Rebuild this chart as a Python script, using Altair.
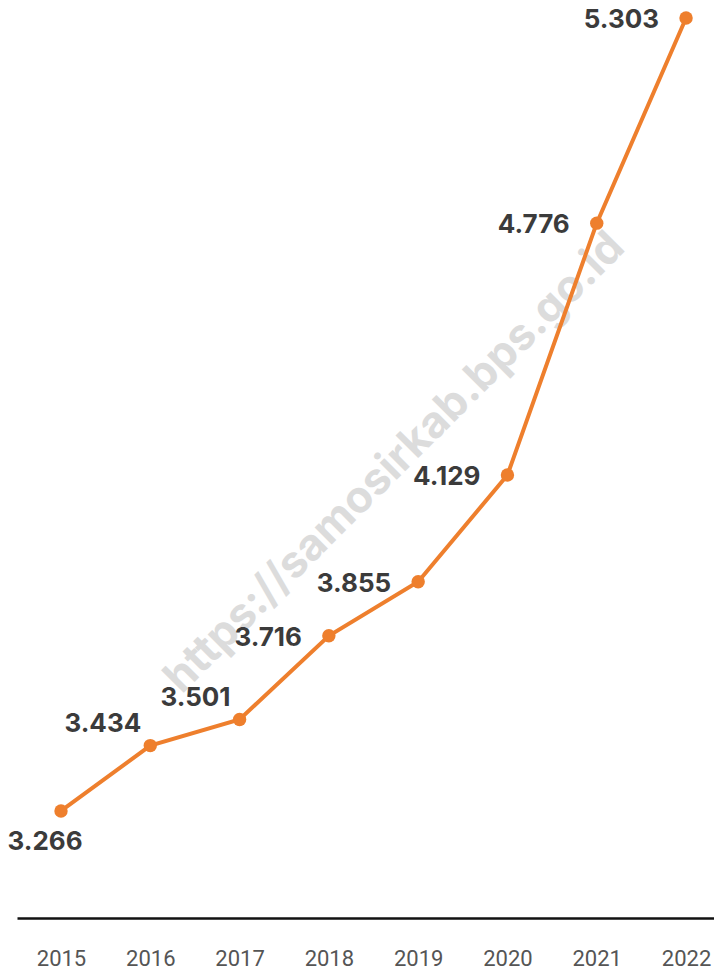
import altair as alt
import pandas as pd

years = [2015, 2016, 2017, 2018, 2019, 2020, 2021, 2022]
values = [3.266, 3.434, 3.501, 3.716, 3.855, 4.129, 4.776, 5.303]
label_side = ["below", "above", "above", "left", "left", "left", "left", "left"]
watermark = "https://samosirkab.bps.go.id"

df = pd.DataFrame({"year": years, "value": values, "side": label_side})

ORANGE = "#EE7F2D"
LABEL = "#3b3b3b"

x = alt.X(
    "year:Q",
    scale=alt.Scale(domain=[2014.5072, 2022.3132], nice=False, zero=False),
    axis=alt.Axis(
        values=years, format="d", title=None, grid=False, ticks=False,
        domainColor="#111111", domainWidth=2.5,
        labelFont="Roboto", labelFontSize=22, labelColor="#555555",
        labelPadding=30, labelFlush=False, labelOverlap=False,
    ),
)
y = alt.Y(
    "value:Q",
    scale=alt.Scale(domain=[2.9911, 5.3287], nice=False, zero=False),
    axis=None,
)

base = alt.Chart(df).encode(x=x, y=y)

wm = alt.Chart(pd.DataFrame({"t": [watermark]})).mark_text(
    angle=315, fontSize=44, fontWeight="bold", font="Inter", color="#dcdcdc",
    align="center", baseline="middle",
).encode(x=alt.value(378), y=alt.value(455), text="t:N")

line = base.mark_line(color=ORANGE, strokeWidth=4)
pts = base.mark_circle(color=ORANGE, size=180, opacity=1)

txt_common = dict(font="Inter", fontSize=26, fontWeight="bold", color=LABEL)
t_left = base.transform_filter(alt.datum.side == "left").mark_text(
    align="right", baseline="middle", dx=-27, dy=2, **txt_common
).encode(text=alt.Text("value:Q", format=".3f"))
t_above = base.transform_filter(alt.datum.side == "above").mark_text(
    align="right", baseline="middle", dx=-9, dy=-22, **txt_common
).encode(text=alt.Text("value:Q", format=".3f"))
t_below = base.transform_filter(alt.datum.side == "below").mark_text(
    align="center", baseline="middle", dx=-16, dy=31, **txt_common
).encode(text=alt.Text("value:Q", format=".3f"))

chart = alt.layer(wm, line, pts, t_left, t_above, t_below).properties(
    width=697, height=910,
    background="white",
    autosize=alt.AutoSizeParams(type="none"),
    padding={"left": 9, "top": 0, "right": 0, "bottom": 56},
).configure_view(stroke=None)

chart.save("out.html", embed_options={"renderer": "svg", "actions": False})
